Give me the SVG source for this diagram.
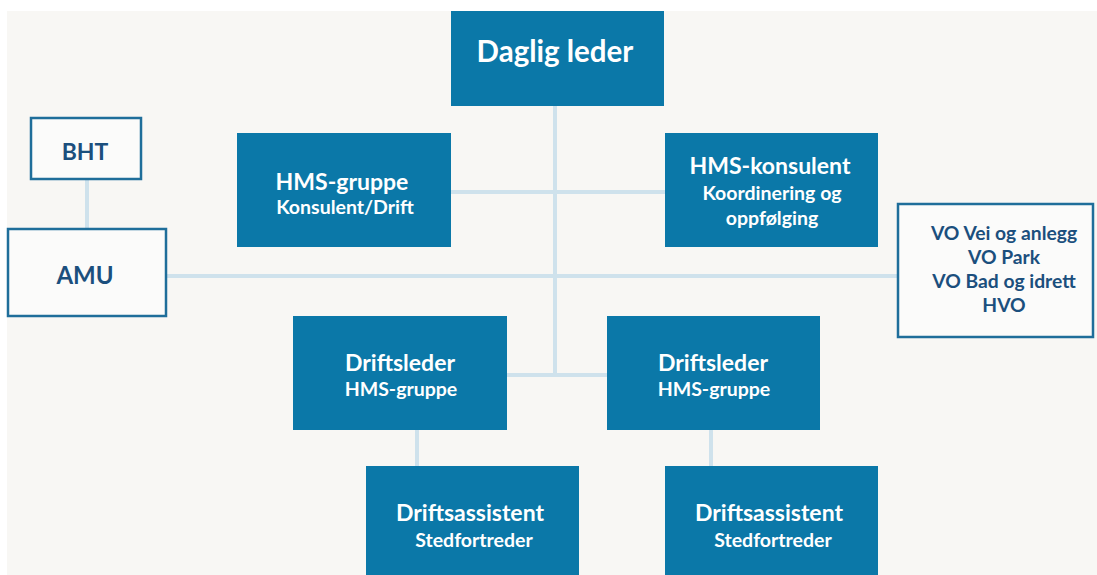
<svg xmlns="http://www.w3.org/2000/svg" width="1097" height="575" viewBox="0 0 1097 575">
<style>
.fill{fill:#0b78a8}
.out{fill:#fbfbfa;stroke:#1f6e9a;stroke-width:2.5}
.t{font-family:Lato,"Open Sans","Liberation Sans",sans-serif;font-weight:700;fill:#ffffff;text-anchor:middle}
.d{fill:#1b4f7d}
.c{stroke:#cfe2ec;stroke-width:4;fill:none}
</style>
<rect x="0" y="0" width="1097" height="575" fill="#ffffff"/>
<rect x="7" y="11" width="1090" height="564" fill="#f8f7f4"/>
<g id="connectors">
<line class="c" x1="87" y1="179" x2="87" y2="229"/>
<line class="c" x1="166" y1="276" x2="897" y2="276"/>
<line class="c" x1="555" y1="106" x2="555" y2="375"/>
<line class="c" x1="451" y1="192" x2="665" y2="192"/>
<line class="c" x1="507" y1="375" x2="607" y2="375"/>
<line class="c" x1="417" y1="430" x2="417" y2="466"/>
<line class="c" x1="711" y1="430" x2="711" y2="466"/>
</g>
<g id="daglig-leder">
<rect class="fill" x="451" y="11" width="213" height="95"/>
<text class="t" x="555" y="62" font-size="29.5">Daglig leder</text>
</g>
<g id="bht">
<rect class="out" x="31" y="118" width="110" height="61"/>
<text class="t d" x="85" y="160" font-size="23">BHT</text>
</g>
<g id="amu">
<rect class="out" x="8" y="229" width="158" height="87"/>
<text class="t d" x="85" y="284" font-size="24">AMU</text>
</g>
<g id="hms-gruppe">
<rect class="fill" x="237" y="133" width="214" height="114"/>
<text class="t" x="342" y="190" font-size="23">HMS-gruppe</text>
<text class="t" x="345" y="214" font-size="19.5">Konsulent/Drift</text>
</g>
<g id="hms-konsulent">
<rect class="fill" x="665" y="133" width="213" height="114"/>
<text class="t" x="770" y="174" font-size="23">HMS-konsulent</text>
<text class="t" x="772" y="200" font-size="19.5">Koordinering og</text>
<text class="t" x="772" y="225" font-size="19.5">oppfølging</text>
</g>
<g id="vo">
<rect class="out" x="898" y="204" width="195" height="133"/>
<text class="t d" x="1004" y="240" font-size="19.3">VO Vei og anlegg</text>
<text class="t d" x="1004" y="264" font-size="19.3">VO Park</text>
<text class="t d" x="1004" y="288" font-size="19.3">VO Bad og idrett</text>
<text class="t d" x="1004" y="312" font-size="19.3">HVO</text>
</g>
<g id="driftsleder-1">
<rect class="fill" x="293" y="316" width="214" height="114"/>
<text class="t" x="400" y="371" font-size="23">Driftsleder</text>
<text class="t" x="401" y="396" font-size="19.5">HMS-gruppe</text>
</g>
<g id="driftsleder-2">
<rect class="fill" x="607" y="316" width="213" height="114"/>
<text class="t" x="713" y="371" font-size="23">Driftsleder</text>
<text class="t" x="714" y="396" font-size="19.5">HMS-gruppe</text>
</g>
<g id="driftsassistent-1">
<rect class="fill" x="366" y="466" width="213" height="109"/>
<text class="t" x="470" y="521" font-size="23">Driftsassistent</text>
<text class="t" x="474" y="547" font-size="19.5">Stedfortreder</text>
</g>
<g id="driftsassistent-2">
<rect class="fill" x="665" y="466" width="213" height="109"/>
<text class="t" x="769" y="521" font-size="23">Driftsassistent</text>
<text class="t" x="773" y="547" font-size="19.5">Stedfortreder</text>
</g>
</svg>
